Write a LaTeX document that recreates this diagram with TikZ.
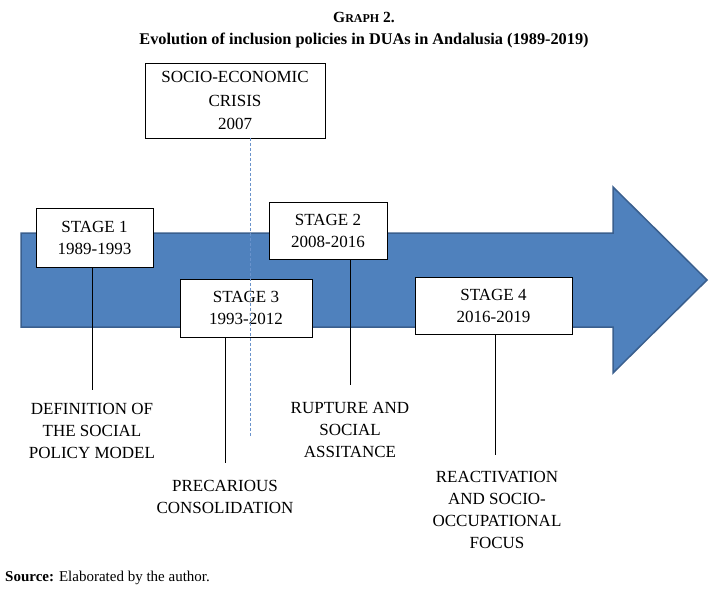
\documentclass[tikz,border=0pt]{standalone}
\usepackage{fontspec}
\setmainfont{Liberation Serif}
\definecolor{arrowfill}{HTML}{4F81BD}
\definecolor{arrowline}{HTML}{3A5F8E}
\definecolor{dashblue}{HTML}{6A93CC}
\begin{document}
\begin{tikzpicture}[x=1pt,y=-1pt,
  box/.style={draw=black,fill=white,line width=0.9pt,align=center,inner sep=0pt,
    font=\fontsize{17}{22}\selectfont},
  lab/.style={align=center,inner sep=0pt,anchor=north,font=\fontsize{17}{22}\selectfont},
  conn/.style={draw=black,line width=0.8pt}]
\useasboundingbox (0,0) rectangle (728,596);
% title
\node (t1) at (364,17) {\fontsize{15.5}{18}\selectfont\bfseries G{\fontsize{12}{14}\selectfont RAPH} 2.};
\node (t2) at (364,40) {\fontsize{16.3}{18}\selectfont\bfseries Evolution of inclusion policies in DUAs in Andalusia (1989-2019)};
% arrow
\path[fill=arrowfill,draw=arrowline,line width=1.5pt,line join=miter]
  (21,233) -- (613,233) -- (613,187) -- (707,280) -- (613,373) -- (613,327) -- (21,327) -- cycle;
% boxes
\node[box,minimum width=180,minimum height=75,font=\fontsize{17}{23.5}\selectfont] (crisis) at (235,100.5) {SOCIO-ECONOMIC\\CRISIS\\2007};
\node[box,minimum width=117,minimum height=59] (s1) at (94.5,237.5) {STAGE 1\\1989-1993};
\node[box,minimum width=118,minimum height=57] (s2) at (328,230.5) {STAGE 2\\2008-2016};
\node[box,minimum width=132,minimum height=58] (s3) at (246,308) {STAGE 3\\1993-2012};
\node[box,minimum width=157,minimum height=57] (s4) at (493.5,305.5) {STAGE 4\\2016-2019};
% labels
\node[lab] (l1) at (92,403) {DEFINITION OF\\THE SOCIAL\\POLICY MODEL};
\node[lab] (l3) at (225,480) {PRECARIOUS\\CONSOLIDATION};
\node[lab] (l2) at (350,402) {RUPTURE AND\\SOCIAL\\ASSITANCE};
\node[lab] (l4) at (497,471) {REACTIVATION\\AND SOCIO-\\OCCUPATIONAL\\FOCUS};
% connectors
\coordinate (e1) at (92,390);
\coordinate (e3) at (225,463);
\coordinate (e2) at (350,385);
\coordinate (e4) at (495,455);
\draw[conn] (s1.south -| e1) -- (e1);
\draw[conn] (s3.south -| e3) -- (e3);
\draw[conn] (s2.south -| e2) -- (e2);
\draw[conn] (s4.south -| e4) -- (e4);
% crisis dashed line
\coordinate (de) at (250,437);
\draw[dashblue,line width=0.9pt,dash pattern=on 3pt off 2pt] (crisis.south -| de) -- (de);
% source
\node[anchor=west,inner sep=0pt] (src) at (5,578) {\fontsize{15}{17}\selectfont\textbf{Source:} Elaborated by the author.};
\end{tikzpicture}
\end{document}
